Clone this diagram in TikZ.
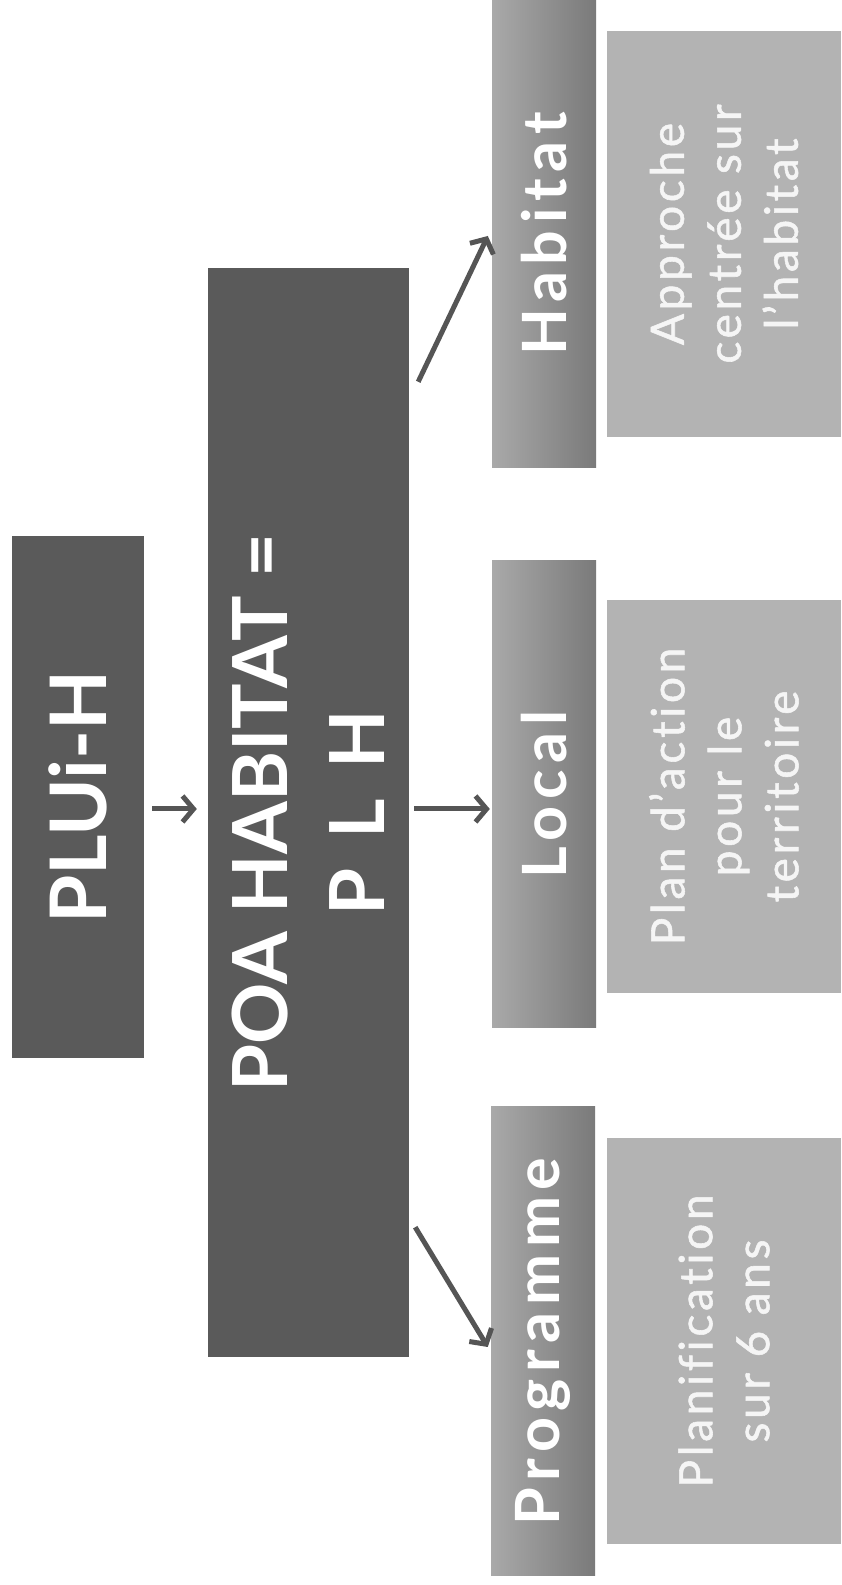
\documentclass[tikz,border=0pt]{standalone}
\usepackage{fontspec}
\setmainfont{Lato}
\usetikzlibrary{arrows.meta}
\definecolor{boxdark}{HTML}{5A5A5A}
\definecolor{hdrlight}{HTML}{A9A9A9}
\definecolor{hdrdark}{HTML}{7A7A7A}
\definecolor{descfill}{HTML}{B3B3B3}
\definecolor{desctext}{HTML}{F5F5F5}
\definecolor{arrowgray}{HTML}{555555}
\begin{document}
\begin{tikzpicture}[x=1pt,y=1pt,
  darkbox/.style={rotate=90, fill=boxdark, text=white, inner sep=0pt, align=center},
  hdrbox/.style={rotate=90, left color=hdrlight, right color=hdrdark, text=white, inner sep=0pt,
     minimum height=104pt, font=\fontsize{61}{70}\selectfont\bfseries\addfontfeatures{LetterSpace=11}},
  descbox/.style={rotate=90, fill=descfill, text=desctext, inner sep=0pt, align=center,
     minimum height=234pt, font=\fontsize{46}{57}\selectfont\addfontfeatures{LetterSpace=8,FakeBold=1.2,Ligatures=NoCommon}},
  arr/.style={draw=arrowgray, line width=5pt, -{Straight Barb[length=11pt,width=26pt,line width=5pt]}}
]
\useasboundingbox (0,0) rectangle (841,1585);
\fill[white] (0,0) rectangle (841,1585);

\node[darkbox, minimum width=522pt, minimum height=132pt,
      font=\fontsize{78}{90}\selectfont\bfseries] (plui) at (78,788) {PLUi-H};
\node[darkbox, minimum width=1089pt, minimum height=201pt,
      font=\fontsize{76}{97}\selectfont\bfseries] (poa) at (308.5,772.5) {POA HABITAT =\\P\hspace{0.4em}L\hspace{0.4em}H};

\node[hdrbox, minimum width=468pt] (hab) at (544,1351) {Habitat};
\node[hdrbox, minimum width=467pt] (loc) at (544,790.5) {Local};
\node[hdrbox, minimum width=469pt] (prog) at (543,243.5) {Programme};

\node[descbox, minimum width=406pt] (habd) at (724,1351) {Approche\\centrée sur\\l’habitat};
\node[descbox, minimum width=393pt] (locd) at (724,788.5) {Plan d’action\\pour le\\territoire};
\node[descbox, minimum width=406pt] (progd) at (724,244) {Planification\\sur 6 ans};

\draw[arr] ([xshift=8pt,yshift=-12pt]plui.south) -- ([xshift=-11pt,yshift=3.5pt]poa.north);
\draw[arr] ([xshift=5pt,yshift=3.5pt]poa.south) -- ([xshift=-2pt,yshift=-14.5pt]loc.north);
\draw[arr] ([xshift=9pt,yshift=-114pt]poa.south east) -- ([xshift=-4pt,yshift=-2pt]hab.north);
\draw[arr] ([xshift=6pt,yshift=130pt]poa.south west) -- ([xshift=-3pt,yshift=-5.5pt]prog.north);
\end{tikzpicture}
\end{document}
